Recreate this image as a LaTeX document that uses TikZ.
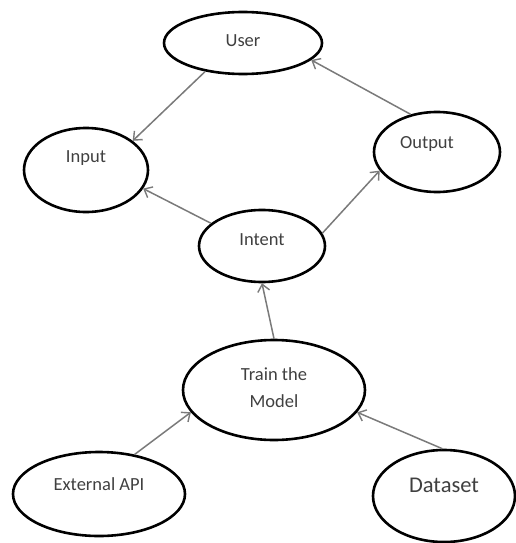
\documentclass[tikz,border=0pt]{standalone}
\usepackage{fontspec}
\setmainfont{Carlito}
\usetikzlibrary{shapes.geometric,arrows.meta}
\definecolor{txtgray}{HTML}{404040}
\definecolor{lngray}{HTML}{7A7A7A}
\tikzset{
  oval/.style={ellipse, draw=black, line width=2.6pt, inner sep=0pt},
  lbl/.style={text=txtgray, font=\fontsize{18.5}{27}\selectfont, align=center},
  conn/.style={draw=lngray, line width=1.5pt, -{Straight Barb[length=7pt,width=12pt,line width=1.4pt]}}
}
\begin{document}
\begin{tikzpicture}[x=1pt,y=-1pt]
\useasboundingbox (0,0) rectangle (515,543);
\node[oval, minimum width=158pt, minimum height=62pt,
  label={[lbl,yshift=2pt]center:User}] (user) at (243,43) {};
\node[oval, minimum width=124pt, minimum height=84pt,
  label={[lbl,yshift=12pt]center:Input}] (input) at (86,170) {};
\node[oval, minimum width=126pt, minimum height=80pt,
  label={[lbl,yshift=8pt,xshift=-10pt]center:Output}] (output) at (437,152) {};
\node[oval, minimum width=126pt, minimum height=72pt,
  label={[lbl,yshift=6pt]center:Intent}] (intent) at (262,246) {};
\node[oval, minimum width=182pt, minimum height=100pt,
  label={[lbl,yshift=2pt]center:Train the\\Model}] (train) at (274,390) {};
\node[oval, minimum width=172pt, minimum height=84pt,
  label={[lbl,yshift=10pt]center:External API}] (api) at (99,494) {};
\node[oval, minimum width=142pt, minimum height=92pt,
  label={[lbl,font=\fontsize{22.5}{27}\selectfont,yshift=11pt]center:Dataset}] (data) at (444,496) {};
\draw[conn] (user.217) -- (input.32);
\draw[conn] (output.125) -- (user.-14);
\draw[conn] (intent.156) -- (input.-18);
\draw[conn] (intent.12) -- (output.198);
\draw[conn] (train.90) -- (intent.270);
\draw[conn] (api.48) -- (train.195);
\draw[conn] (data.92) -- (train.-15);
\end{tikzpicture}
\end{document}
